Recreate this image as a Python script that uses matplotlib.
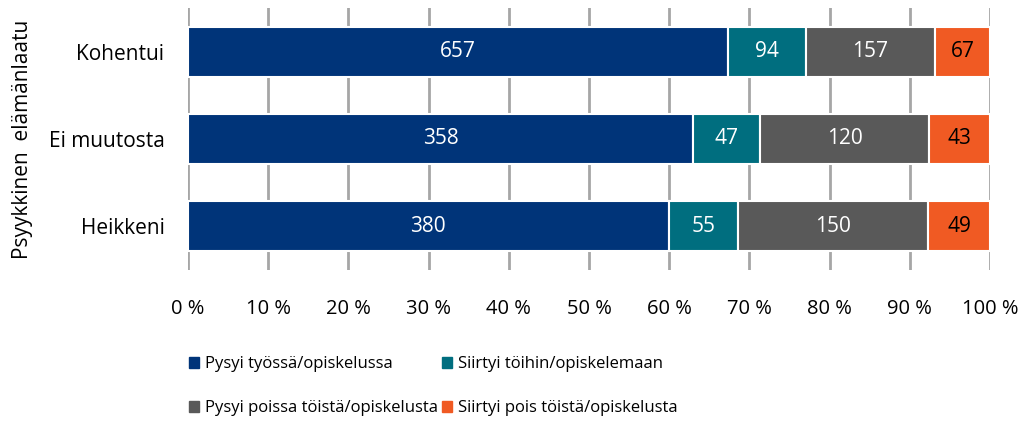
import matplotlib.pyplot as plt
from matplotlib.patches import Patch

plt.rcParams['font.family'] = ['Open Sans', 'DejaVu Sans']

# data
categories = ['Kohentui', 'Ei muutosta', 'Heikkeni']
series = ['Pysyi työssä/opiskelussa', 'Siirtyi töihin/opiskelemaan',
          'Pysyi poissa töistä/opiskelusta', 'Siirtyi pois töistä/opiskelusta']
values = [
    [657, 358, 380],
    [94, 47, 55],
    [157, 120, 150],
    [67, 43, 49],
]
colors = ['#003479', '#006E7F', '#595959', '#F05A23']
text_colors = ['white', 'white', 'white', 'black']
xticks = [0, 10, 20, 30, 40, 50, 60, 70, 80, 90, 100]

totals = [sum(v[i] for v in values) for i in range(len(categories))]

fig = plt.figure(figsize=(10.23, 4.23), dpi=100)
ax = fig.add_axes([0.1838, 0.3617, 0.7839, 0.6194])

y = list(range(len(categories)))
left = [0.0] * len(categories)
for s, vals in enumerate(values):
    pct = [v / t * 100 for v, t in zip(vals, totals)]
    ax.barh(y, pct, left=left, height=0.57, color=colors[s],
            edgecolor='white', linewidth=1.5, label=series[s], zorder=3)
    for i in range(len(categories)):
        ax.text(left[i] + pct[i] / 2, y[i], str(vals[i]), ha='center',
                va='center', color=text_colors[s], fontsize=15, zorder=4)
    left = [l + p for l, p in zip(left, pct)]

ax.set_xlim(0, 100)
ax.set_ylim(2.5, -0.5)
ax.set_yticks(y)
ax.set_yticklabels(categories, fontsize=15)
ax.set_xticks(xticks)
ax.set_xticklabels([f'{t} %' for t in xticks], fontsize=14.5)
ax.tick_params(axis='x', length=0, pad=21)
ax.tick_params(axis='y', length=0, pad=17)
ax.grid(axis='x', color='#A6A6A6', linewidth=2, zorder=0)
for sp in ax.spines.values():
    sp.set_visible(False)
ax.set_ylabel('Psyykkinen  elämänlaatu', fontsize=15, labelpad=11)

# legend filled row by row
order = [0, 2, 1, 3]
handles = [Patch(color=colors[k], label=series[k]) for k in order]
fig.legend(handles=handles, loc='lower left', bbox_to_anchor=(0.170, -0.02),
           ncol=2, frameon=False, fontsize=12, handlelength=0.6,
           handleheight=0.6, handletextpad=0.35, columnspacing=0.25,
           labelspacing=1.7)

fig.savefig('out.png', dpi=100)
